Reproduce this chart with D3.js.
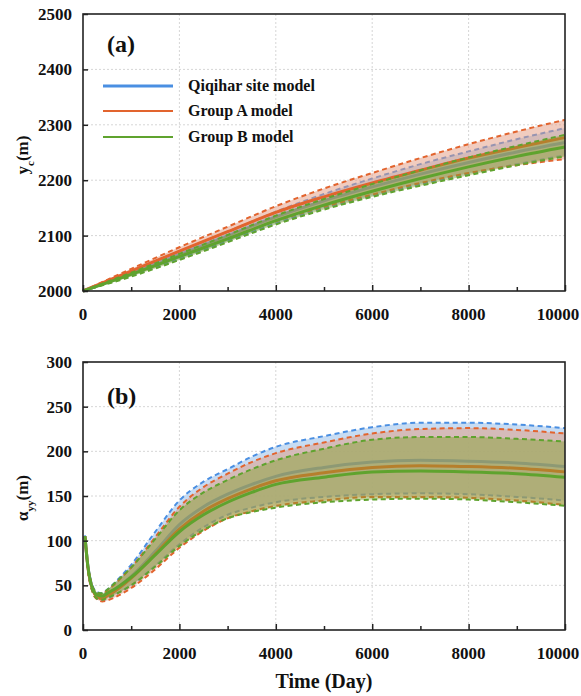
<!DOCTYPE html>
<html>
<head>
<meta charset="utf-8">
<script src="https://cdn.jsdelivr.net/npm/d3@7"></script>
<style>
  body { margin: 0; background: #fff; }
  svg { display: block; }
  text { font-family: "Liberation Serif", "Times New Roman", serif; font-weight: bold; fill: #111; }
</style>
</head>
<body>
<div id="chart"></div>
<script>
// panel (a): y_c over time, sampled every 1000 days
const daysA = [0, 1000, 2000, 3000, 4000, 5000, 6000, 7000, 8000, 9000, 10000];
const siteMeanA  = [2000, 2032, 2066, 2100, 2134, 2163, 2188, 2211, 2232, 2251, 2268];
const siteUpperA = [2000, 2035, 2071, 2107, 2143, 2175, 2203, 2229, 2252, 2274, 2294];
const siteLowerA = [2000, 2028, 2058, 2090, 2122, 2150, 2172, 2193, 2212, 2229, 2245];
const grpAMeanA  = [2000, 2036, 2072, 2107, 2142, 2170, 2195, 2218, 2240, 2259, 2277];
const grpAUpperA = [2000, 2040, 2079, 2116, 2153, 2185, 2213, 2240, 2265, 2288, 2309];
const grpALowerA = [2000, 2031, 2062, 2094, 2126, 2152, 2174, 2195, 2213, 2227, 2238];
const grpBMeanA  = [2000, 2030, 2062, 2094, 2127, 2155, 2180, 2203, 2224, 2243, 2260];
const grpBUpperA = [2000, 2033, 2067, 2101, 2136, 2166, 2193, 2218, 2241, 2262, 2282];
const grpBLowerA = [2000, 2026, 2056, 2088, 2120, 2147, 2170, 2190, 2209, 2227, 2243];

// panel (b): alpha_yy over time
const daysB = [40, 100, 200, 300, 400, 500, 750, 1000, 1500, 2000, 2500, 3000, 3500, 4000, 5000, 6000, 7000, 8000, 9000, 10000];
const siteMeanB  = [105, 72, 46, 38, 37, 40, 49, 60, 88, 118, 138, 152, 163, 172, 182, 188, 190, 189, 187, 183];
const siteUpperB = [106, 74, 49, 42, 41, 45, 58, 73, 110, 145, 166, 180, 194, 205, 217, 227, 232, 232, 230, 226];
const siteLowerB = [104, 69, 43, 35, 33, 35, 42, 50, 72, 96, 115, 129, 137, 143, 149, 152, 153, 152, 149, 145];
const grpAMeanB  = [105, 71, 45, 37, 35, 38, 47, 58, 85, 113, 133, 147, 158, 167, 176, 182, 184, 183, 181, 177];
const grpAUpperB = [105, 73, 48, 41, 40, 44, 56, 70, 104, 138, 160, 175, 188, 198, 210, 220, 225, 226, 224, 220];
const grpALowerB = [104, 68, 42, 34, 32, 33, 39, 47, 68, 92, 111, 125, 133, 139, 145, 149, 149, 148, 145, 140];
const grpBMeanB  = [105, 72, 46, 39, 38, 41, 49, 59, 84, 110, 129, 143, 154, 163, 171, 177, 178, 177, 175, 171];
const grpBUpperB = [105, 73, 48, 42, 41, 45, 57, 70, 102, 134, 154, 168, 180, 190, 203, 213, 216, 216, 214, 211];
const grpBLowerB = [104, 69, 43, 35, 34, 36, 42, 50, 71, 94, 112, 125, 132, 137, 143, 146, 147, 146, 143, 139];

const seriesNames = ["Qiqihar site model", "Group A model", "Group B model"];
const xTicks = [0, 2000, 4000, 6000, 8000, 10000];
const yTicksA = [2000, 2100, 2200, 2300, 2400, 2500];
const yTicksB = [0, 50, 100, 150, 200, 250, 300];

const colors = ["#4A8FE2", "#E2642E", "#5FA32E"];
const fills = ["#b9d3f0", "#e39a80", "#80a02a"];
const fillOpacity = [0.8, 0.5, 0.45];

const width = 581, height = 696;
const left = 83, right = 565;

const svg = d3.select("#chart").append("svg")
  .attr("width", width)
  .attr("height", height);

const x = d3.scaleLinear().domain([0, 10000]).range([left, right]);

function zip(days, lo, mid, hi) {
  return days.map((d, i) => ({ d: d, lo: lo[i], mid: mid[i], hi: hi[i] }));
}

function drawPanel(opts) {
  const y = d3.scaleLinear().domain(opts.domain).range([opts.bottom, opts.top]);
  const g = svg.append("g");

  // grid
  g.selectAll(".vgrid").data(xTicks.slice(1, -1)).enter().append("line")
    .attr("x1", d => x(d)).attr("x2", d => x(d))
    .attr("y1", opts.top).attr("y2", opts.bottom)
    .attr("stroke", "#d6d6d6").attr("stroke-width", 1).attr("stroke-dasharray", "2,2");
  g.selectAll(".hgrid").data(opts.yTicks.slice(1, -1)).enter().append("line")
    .attr("x1", left).attr("x2", right)
    .attr("y1", d => y(d)).attr("y2", d => y(d))
    .attr("stroke", "#d6d6d6").attr("stroke-width", 1).attr("stroke-dasharray", "2,2");

  const area = d3.area().x(p => x(p.d)).y0(p => y(p.lo)).y1(p => y(p.hi)).curve(d3.curveMonotoneX);
  const line = key => d3.line().x(p => x(p.d)).y(p => y(p[key])).curve(d3.curveMonotoneX);

  opts.series.forEach((s, i) => {
    g.append("path").datum(s).attr("d", area)
      .attr("fill", fills[i]).attr("fill-opacity", fillOpacity[i]).attr("stroke", "none");
    ["hi", "lo"].forEach(k => {
      g.append("path").datum(s).attr("d", line(k))
        .attr("fill", "none").attr("stroke", colors[i])
        .attr("stroke-width", 2).attr("stroke-dasharray", "5,3.5");
    });
    g.append("path").datum(s).attr("d", line("mid"))
      .attr("fill", "none").attr("stroke", colors[i]).attr("stroke-width", 3);
  });

  // frame
  g.append("rect")
    .attr("x", left).attr("y", opts.top)
    .attr("width", right - left).attr("height", opts.bottom - opts.top)
    .attr("fill", "none").attr("stroke", "#222").attr("stroke-width", 1.6);

  // inward ticks
  const xAxis = d3.axisBottom(x).tickValues(xTicks).tickSizeInner(-6).tickSizeOuter(0).tickFormat("");
  g.append("g").attr("transform", `translate(0,${opts.bottom})`).call(xAxis)
    .call(a => a.select(".domain").remove())
    .call(a => a.selectAll("line").attr("stroke", "#222").attr("stroke-width", 1.5));
  const minor = d3.axisBottom(x).tickValues([1000, 3000, 5000, 7000, 9000]).tickSizeInner(-4).tickSizeOuter(0).tickFormat("");
  g.append("g").attr("transform", `translate(0,${opts.bottom})`).call(minor)
    .call(a => a.select(".domain").remove())
    .call(a => a.selectAll("line").attr("stroke", "#222").attr("stroke-width", 1.5));
  const yAxis = d3.axisLeft(y).tickValues(opts.yTicks).tickSizeInner(-5).tickSizeOuter(0).tickFormat("");
  g.append("g").attr("transform", `translate(${left},0)`).call(yAxis)
    .call(a => a.select(".domain").remove())
    .call(a => a.selectAll("line").attr("stroke", "#222").attr("stroke-width", 1.5));

  // tick labels (last one nudged inside the page)
  g.selectAll(".xl").data(xTicks).enter().append("text")
    .attr("x", (d, i) => x(d) - (i === xTicks.length - 1 ? 7 : 0))
    .attr("y", opts.bottom + 29)
    .attr("text-anchor", "middle").attr("font-size", 17)
    .text(d => d);
  g.selectAll(".yl").data(opts.yTicks).enter().append("text")
    .attr("x", left - 11).attr("y", d => y(d) + 6)
    .attr("text-anchor", "end").attr("font-size", 17)
    .text(d => d);

  // panel tag
  g.append("text").attr("x", 107).attr("y", opts.top + opts.tagDy)
    .attr("font-size", 24).text(opts.tag);

  // y title
  const t = g.append("text")
    .attr("transform", `translate(28,${opts.labelY}) rotate(-90)`)
    .attr("text-anchor", "middle").attr("font-size", 17);
  t.append("tspan").text(opts.sym);
  t.append("tspan").attr("font-size", 11).attr("baseline-shift", "sub").text(opts.sub);
  t.append("tspan").text("(m)");
  return g;
}

const gA = drawPanel({
  top: 14, bottom: 291, domain: [2000, 2500], yTicks: yTicksA,
  series: [
    zip(daysA, siteLowerA, siteMeanA, siteUpperA),
    zip(daysA, grpALowerA, grpAMeanA, grpAUpperA),
    zip(daysA, grpBLowerA, grpBMeanA, grpBUpperA)
  ],
  tag: "(a)", tagDy: 38, sym: "y", sub: "c", labelY: 155
});

drawPanel({
  top: 362, bottom: 630, domain: [0, 300], yTicks: yTicksB,
  series: [
    zip(daysB, siteLowerB, siteMeanB, siteUpperB),
    zip(daysB, grpALowerB, grpAMeanB, grpAUpperB),
    zip(daysB, grpBLowerB, grpBMeanB, grpBUpperB)
  ],
  tag: "(b)", tagDy: 42, sym: "\u03b1", sub: "yy", labelY: 498
});

// legend in panel (a)
const legendY = [86, 111, 137];
const legendW = [3.2, 2.2, 2.2];
seriesNames.forEach((n, i) => {
  gA.append("line")
    .attr("x1", 103).attr("x2", 173)
    .attr("y1", legendY[i]).attr("y2", legendY[i])
    .attr("stroke", colors[i]).attr("stroke-width", legendW[i]);
  gA.append("text")
    .attr("x", 188).attr("y", legendY[i] + 5)
    .attr("font-size", 16).text(n);
});

// x title
svg.append("text")
  .attr("x", (left + right) / 2).attr("y", 688)
  .attr("text-anchor", "middle").attr("font-size", 20)
  .text("Time (Day)");
</script>
</body>
</html>
